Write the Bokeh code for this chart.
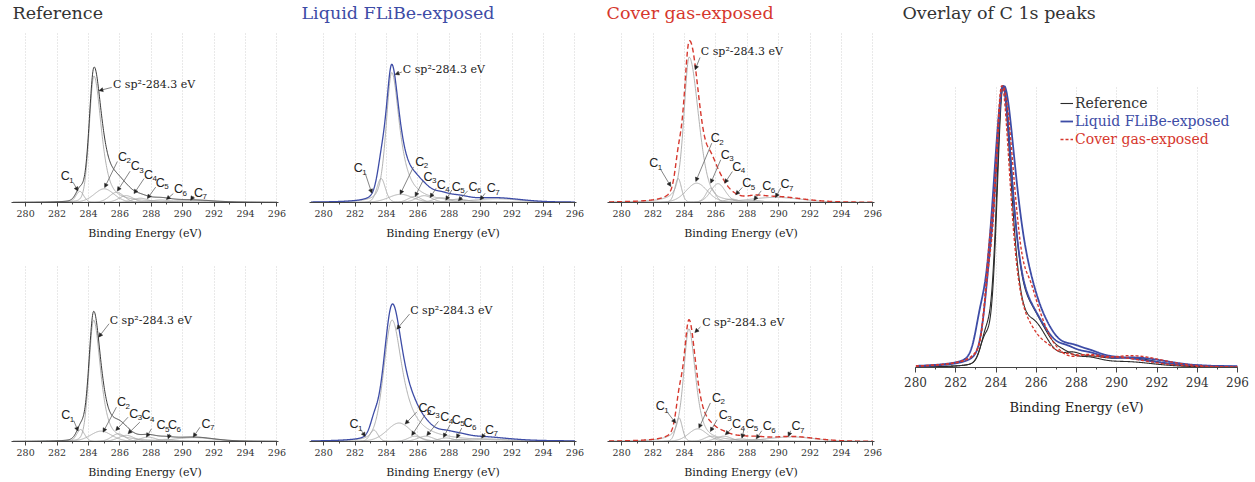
import numpy as np
from bokeh.plotting import figure
from bokeh.layouts import row, column
from bokeh.models import (Range1d, SingleIntervalTicker, Arrow, NormalHead,
                          ColumnDataSource, Legend, LegendItem, Title)
from bokeh.core.properties import value
from bokeh.embed import file_html
from bokeh.resources import INLINE

# ------------------------------------------------------------------ data
SUBSCRIPTS = ["1", "2", "3", "4", "5", "6", "7"]
SP2_LABEL = "C sp\u00b2-284.3 eV"
TITLES = ["Reference", "Liquid FLiBe-exposed", "Cover gas-exposed", "Overlay of C 1s peaks"]
LEGEND_LABELS = ["Reference", "Liquid FLiBe-exposed", "Cover gas-exposed"]

# fitted components, order: C sp2, C1 ... C7  (centre eV, height, HWHM eV)
REF_TOP_CENTER = [284.35, 283.45, 285.0, 285.8, 286.4, 287.3, 288.6, 290.5]
REF_TOP_HEIGHT = [0.74, 0.065, 0.08, 0.06, 0.04, 0.025, 0.015, 0.012]
REF_TOP_HWHM = [0.35, 0.3, 0.75, 0.55, 0.55, 0.6, 0.7, 1.6]

LIQ_TOP_CENTER = [284.34, 283.66, 284.9, 285.8, 286.4, 287.5, 288.6, 291.0]
LIQ_TOP_HEIGHT = [0.76, 0.14, 0.048, 0.035, 0.04, 0.028, 0.02, 0.022]
LIQ_TOP_HWHM = [0.42, 0.32, 0.9, 0.5, 0.6, 0.6, 0.7, 1.8]

COV_TOP_CENTER = [284.3, 283.6, 284.78, 285.67, 286.14, 287.0, 288.5, 289.8]
COV_TOP_HEIGHT = [0.85, 0.14, 0.113, 0.084, 0.11, 0.02, 0.012, 0.03]
COV_TOP_HWHM = [0.4, 0.25, 0.8, 0.35, 0.55, 0.5, 0.6, 2.0]

REF_BOT_CENTER = [284.33, 283.5, 284.8, 285.9, 286.4, 287.8, 288.9, 290.7]
REF_BOT_HEIGHT = [0.69, 0.068, 0.059, 0.044, 0.035, 0.025, 0.012, 0.022]
REF_BOT_HWHM = [0.35, 0.3, 0.8, 0.5, 0.6, 0.6, 0.6, 1.5]

LIQ_BOT_CENTER = [284.36, 283.2, 284.8, 285.8, 286.5, 287.8, 288.7, 290.2]
LIQ_BOT_HEIGHT = [0.69, 0.065, 0.105, 0.03, 0.03, 0.02, 0.012, 0.015]
LIQ_BOT_HWHM = [0.62, 0.3, 0.9, 0.5, 0.6, 0.6, 0.6, 1.8]

COV_BOT_CENTER = [284.28, 283.65, 284.85, 285.7, 286.5, 287.6, 288.6, 290.8]
COV_BOT_HEIGHT = [0.64, 0.135, 0.072, 0.03, 0.03, 0.015, 0.012, 0.026]
COV_BOT_HWHM = [0.4, 0.25, 0.7, 0.5, 0.6, 0.6, 0.6, 1.8]

# C sp2 line shape; order: ref top, liq top, cov top, ref bot, liq bot, cov bot
SP2_HWHM_HIGH_BE = [0.55, 0.6, 0.7, 0.52, 0.8, 0.5]
SP2_LORENTZ_LOW_BE = [0.15, 0.4, 0.5, 0.15, 0.25, 0.55]
SP2_LORENTZ_HIGH_BE = [0.6, 0.9, 0.3, 0.6, 0.95, 0.6]
MINOR_LORENTZ = 0.2

# annotation placement: (text x, text y, arrow x0, y0, arrow tip x1, y1)
REF_TOP_NOTES = [(285.56, 0.692, 285.48, 0.673, 284.67, 0.654),
                 (282.23, 0.154, 283.04, 0.115, 283.33, 0.067),
                 (285.88, 0.269, 285.84, 0.24, 285.03, 0.087),
                 (286.69, 0.212, 286.65, 0.183, 285.84, 0.067),
                 (287.54, 0.163, 287.54, 0.14, 286.9, 0.052),
                 (288.28, 0.115, 288.28, 0.09, 287.75, 0.023),
                 (289.45, 0.077, 289.4, 0.052, 288.96, 0.017),
                 (290.72, 0.058, 290.68, 0.038, 290.51, 0.013)]
LIQ_TOP_NOTES = [(285.04, 0.778, 284.98, 0.763, 284.55, 0.749),
                 (281.91, 0.199, 282.65, 0.17, 283.07, 0.054),
                 (285.83, 0.237, 285.72, 0.208, 284.87, 0.048),
                 (286.36, 0.151, 286.31, 0.125, 285.83, 0.035),
                 (287.2, 0.102, 287.16, 0.083, 286.78, 0.029),
                 (288.16, 0.093, 288.16, 0.073, 287.78, 0.0135),
                 (289.22, 0.093, 289.17, 0.068, 288.58, 0.01),
                 (290.38, 0.083, 290.28, 0.054, 289.96, 0.015)]
COV_TOP_NOTES = [(285.04, 0.883, 284.99, 0.848, 284.68, 0.776),
                 (281.76, 0.23, 282.5, 0.191, 283.13, 0.094),
                 (285.67, 0.376, 285.74, 0.347, 284.72, 0.123),
                 (286.31, 0.279, 286.31, 0.25, 285.67, 0.113),
                 (287.05, 0.21, 287.05, 0.181, 286.56, 0.113),
                 (287.68, 0.113, 287.68, 0.088, 287.26, 0.045),
                 (288.95, 0.094, 288.89, 0.068, 288.42, 0.0136),
                 (290.12, 0.107, 290.12, 0.084, 289.8, 0.029)]
REF_BOT_NOTES = [(285.35, 0.6875, 285.31, 0.669, 284.65, 0.593),
                 (282.27, 0.148, 283.06, 0.119, 283.34, 0.059),
                 (285.82, 0.223, 285.78, 0.195, 284.93, 0.053),
                 (286.59, 0.157, 286.52, 0.138, 285.74, 0.0625),
                 (287.37, 0.148, 287.27, 0.11, 286.52, 0.044),
                 (288.33, 0.091, 288.01, 0.072, 287.69, 0.025),
                 (289.07, 0.091, 289.18, 0.044, 289.07, 0.015),
                 (291.2, 0.1, 291.1, 0.081, 290.67, 0.025)]
LIQ_BOT_NOTES = [(285.51, 0.743, 285.47, 0.724, 284.66, 0.638),
                 (281.65, 0.099, 282.33, 0.072, 282.65, 0.029),
                 (286.04, 0.19, 285.93, 0.168, 285.19, 0.099),
                 (286.57, 0.171, 286.46, 0.152, 285.61, 0.034),
                 (287.42, 0.137, 287.31, 0.114, 286.57, 0.034),
                 (288.16, 0.124, 288.05, 0.095, 287.63, 0.023),
                 (288.9, 0.105, 288.79, 0.076, 288.47, 0.019),
                 (290.28, 0.067, 290.28, 0.048, 290.06, 0.019)]
COV_BOT_NOTES = [(285.13, 0.676, 285.02, 0.651, 284.66, 0.619),
                 (282.17, 0.2, 282.87, 0.171, 283.44, 0.105),
                 (285.76, 0.248, 285.65, 0.219, 284.92, 0.076),
                 (286.18, 0.152, 286.08, 0.124, 285.65, 0.057),
                 (287.03, 0.099, 287.03, 0.076, 286.6, 0.038),
                 (287.87, 0.099, 287.81, 0.076, 287.66, 0.019),
                 (288.99, 0.086, 288.92, 0.061, 288.57, 0.015),
                 (290.82, 0.086, 290.76, 0.061, 290.61, 0.029)]

# ------------------------------------------------------------------ styles
SERIF = "DejaVu Serif"
SANS = "Liberation Sans"
DARK = "#333333"
BLUE = "#3d4ca6"
RED = "#d6372d"
COMP = "#a8a8a8"
ENERGY = np.arange(279.2, 296.0001, 0.02)


def peak(x, c, h, wl, wr, ml, mr):
    d = x - c
    w = np.where(d < 0, wl, wr)
    m = np.where(d < 0, ml, mr)
    r2 = (d / w) ** 2
    return h * (m / (1.0 + r2) + (1.0 - m) * np.exp(-np.log(2.0) * r2))


def components(idx, centers, heights, hwhm):
    out = []
    for k in range(len(centers)):
        if k == 0:
            out.append(peak(ENERGY, centers[0], heights[0], hwhm[0], SP2_HWHM_HIGH_BE[idx],
                            SP2_LORENTZ_LOW_BE[idx], SP2_LORENTZ_HIGH_BE[idx]))
        else:
            out.append(peak(ENERGY, centers[k], heights[k], hwhm[k], hwhm[k],
                            MINOR_LORENTZ, MINOR_LORENTZ))
    return out


def style_axis(p, tick_size, label_size, tick_standoff, label_standoff, tick_out):
    ax = p.xaxis[0]
    ax.ticker = SingleIntervalTicker(interval=2, num_minor_ticks=2)
    ax.axis_label = "Binding Energy (eV)"
    ax.axis_line_color = "#444444"
    ax.major_tick_line_color = "#444444"
    ax.minor_tick_line_color = "#444444"
    ax.major_tick_in = 0
    ax.major_tick_out = tick_out
    ax.minor_tick_in = 0
    ax.minor_tick_out = 2
    ax.major_label_text_font = SERIF
    ax.major_label_text_font_size = tick_size
    ax.major_label_text_color = DARK
    ax.major_label_standoff = tick_standoff
    ax.axis_label_text_font = SERIF
    ax.axis_label_text_font_size = label_size
    ax.axis_label_text_font_style = "normal"
    ax.axis_label_text_color = "#222222"
    ax.axis_label_standoff = label_standoff
    p.xgrid.grid_line_color = "#d2d2d2"
    p.xgrid.grid_line_dash = "1 2"
    p.ygrid.visible = False
    p.outline_line_color = None


def add_title(p, text, color, offset, gap):
    # an empty spacer next to the frame, then the visible title outside it
    p.add_layout(Title(text=" ", text_font_size="1px", standoff=gap), "above")
    p.add_layout(Title(text=text, text_font=SERIF, text_font_size="17.5px",
                       text_font_style="normal", text_color=color, align="left",
                       offset=offset, standoff=0), "above")


# column geometry: (figure width, left border, right border, title offset)
COLS = [(300, 11, 22, 1), (300, 9, 24, -8), (302, 7, 28, -1)]


def small_panel(idx, col, centers, heights, hwhm, notes, env_color, env_width, env_dash,
                title=None, title_color=DARK):
    top = title is not None
    width, bl, br, toff = COLS[col]
    p = figure(width=width, height=255 if top else 227,
               x_range=Range1d(279.1, 296.1), y_range=Range1d(0, 1),
               output_backend="svg", toolbar_location=None, y_axis_location=None,
               min_border_left=bl, min_border_right=br,
               min_border_top=28 if top else 10, min_border_bottom=53 if top else 41)
    if top:
        add_title(p, title, title_color, toff, 6)
    style_axis(p, "9.5px", "11px", 3, 7, 4)

    comps = components(idx, centers, heights, hwhm)
    for c in comps:
        p.line(ENERGY, c, line_color=COMP, line_width=0.9)
    env = np.sum(comps, axis=0)
    p.line(ENERGY, env, line_color=env_color, line_width=env_width, line_dash=env_dash)

    # labels
    p.text(x=[notes[0][0]], y=[notes[0][1]], text=[SP2_LABEL], text_font=value(SERIF),
           text_font_size="11px", text_baseline="middle", text_align="left",
           text_color="#222222")
    lx = [n[0] for n in notes[1:]]
    ly = [n[1] for n in notes[1:]]
    p.text(x=lx, y=ly, text=["C"] * len(lx), text_font=value(SANS), text_font_size="12.5px",
           text_baseline="middle", text_align="left", text_color="#222222")
    p.text(x=lx, y=ly, text=SUBSCRIPTS, text_font=value(SANS), text_font_size="8px",
           text_baseline="middle", text_align="left", text_color="#222222",
           x_offset=8.5, y_offset=4)
    src = ColumnDataSource(dict(x0=[n[2] for n in notes], y0=[n[3] for n in notes],
                                x1=[n[4] for n in notes], y1=[n[5] for n in notes]))
    p.add_layout(Arrow(end=NormalHead(size=4, fill_color="#222222", line_color="#222222",
                                      line_width=0.5),
                       x_start="x0", y_start="y0", x_end="x1", y_end="y1", source=src,
                       line_color="#666666", line_width=0.8))
    return p, env


p1, e1 = small_panel(0, 0, REF_TOP_CENTER, REF_TOP_HEIGHT, REF_TOP_HWHM, REF_TOP_NOTES,
                     "#3a3a3a", 1.0, "solid", TITLES[0], DARK)
p2, e2 = small_panel(1, 1, LIQ_TOP_CENTER, LIQ_TOP_HEIGHT, LIQ_TOP_HWHM, LIQ_TOP_NOTES,
                     BLUE, 1.3, "solid", TITLES[1], BLUE)
p3, e3 = small_panel(2, 2, COV_TOP_CENTER, COV_TOP_HEIGHT, COV_TOP_HWHM, COV_TOP_NOTES,
                     RED, 1.4, "5 3", TITLES[2], RED)
p4, e4 = small_panel(3, 0, REF_BOT_CENTER, REF_BOT_HEIGHT, REF_BOT_HWHM, REF_BOT_NOTES,
                     "#3a3a3a", 1.0, "solid")
p5, e5 = small_panel(4, 1, LIQ_BOT_CENTER, LIQ_BOT_HEIGHT, LIQ_BOT_HWHM, LIQ_BOT_NOTES,
                     BLUE, 1.3, "solid")
p6, e6 = small_panel(5, 2, COV_BOT_CENTER, COV_BOT_HEIGHT, COV_BOT_HWHM, COV_BOT_NOTES,
                     RED, 1.4, "5 3")

# ------------------------------------------------------------------ overlay
po = figure(width=353, height=482,
            x_range=Range1d(280, 296), y_range=Range1d(0, 1.0),
            output_backend="svg", toolbar_location=None, y_axis_location=None,
            min_border_left=13, min_border_right=18, min_border_top=83, min_border_bottom=115)
add_title(po, TITLES[3], DARK, -13, 60)
style_axis(po, "12px", "13px", 4, 10, 5)

mask = ENERGY >= 280
over = {}
for key, env, color, width, dash in [("ref1", e1, "#2b2b2b", 1.1, "solid"),
                                     ("ref2", e4, "#2b2b2b", 1.1, "solid"),
                                     ("liq1", e2, BLUE, 1.8, "solid"),
                                     ("liq2", e5, BLUE, 1.8, "solid"),
                                     ("cov1", e3, RED, 1.4, "3 2"),
                                     ("cov2", e6, RED, 1.4, "3 2")]:
    over[key] = po.line(ENERGY[mask], env[mask] / env.max(), line_color=color,
                        line_width=width, line_dash=dash)

for rend, label, color, vy in [(over["ref1"], LEGEND_LABELS[0], DARK, 256),
                               (over["liq1"], LEGEND_LABELS[1], BLUE, 238),
                               (over["cov1"], LEGEND_LABELS[2], RED, 220)]:
    leg = Legend(items=[LegendItem(label=label, renderers=[rend])], location=(145, vy),
                 label_text_font=SERIF, label_text_font_size="14px", label_text_color=color,
                 glyph_width=13, glyph_height=14, label_standoff=2, padding=0, margin=0,
                 spacing=0, border_line_color=None, background_fill_alpha=0, label_height=16)
    po.add_layout(leg)

layout = row(column(row(p1, p2, p3), row(p4, p5, p6)), po)
open("out.html", "w").write(file_html(layout, INLINE))
